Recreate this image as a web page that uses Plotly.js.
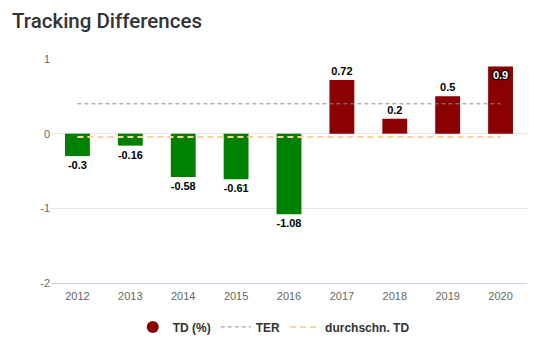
<!DOCTYPE html>
<html><head><meta charset="utf-8">
<script src="https://cdn.plot.ly/plotly-3.0.1.min.js"></script>
<style>html,body{margin:0;padding:0;background:#fff}#chart{width:547px;height:353px}</style>
</head><body><div id="chart"></div>
<script>
const years = ["2012","2013","2014","2015","2016","2017","2018","2019","2020"];
const td = [-0.3,-0.16,-0.58,-0.61,-1.08,0.72,0.2,0.5,0.9];
const ter = [0.4,0.4,0.4,0.4,0.4,0.4,0.4,0.4,0.4];
const avgTd = [-0.045,-0.045,-0.045,-0.045,-0.045,-0.045,-0.045,-0.045,-0.045];
const yTicks = [-2,-1,0,1];

const barColors = td.map(v => v < 0 ? "#008000" : "#8b0000");
const textPos = td.map(v => v > 0.85 ? "inside" : "outside");

const traces = [
  {type:"bar", x:years, y:td, width:0.47, marker:{color:barColors},
   text:td.map(String), textposition:textPos, cliponaxis:false,
   insidetextanchor:"end",
   insidetextfont:{family:"Liberation Sans, Arial, sans-serif", size:11, color:"#ffffff", weight:"bold",
                   shadow:"1px 1px 1px #000, -1px -1px 1px #000, 1px -1px 1px #000, -1px 1px 1px #000"},
   outsidetextfont:{family:"Liberation Sans, Arial, sans-serif", size:11, color:"#000", weight:"bold"},
   showlegend:false, hoverinfo:"skip"},
  {type:"scatter", mode:"markers", x:[null], y:[null], name:"TD (%)",
   marker:{symbol:"circle", size:12, color:"#8b0000"}},
  {type:"scatter", mode:"lines", x:years, y:ter, name:"TER",
   line:{color:"#8c8c8c", width:1, dash:"4px,3px"}},
  {type:"scatter", mode:"lines", x:years, y:avgTd, name:"durchschn. TD",
   line:{color:"#ffd0a0", width:2, dash:"6px,4px"}}
];

const layout = {
  width:547, height:353,
  margin:{l:51, r:20, t:59, b:70},
  paper_bgcolor:"#fff", plot_bgcolor:"#fff",
  font:{family:"Liberation Sans, Arial, sans-serif", size:11, color:"#666"},
  title:{text:"Tracking Differences", x:0.022, xanchor:"left", y:0.94, yanchor:"middle",
         font:{family:"Roboto, Inter, sans-serif", size:20.5, color:"#333", weight:500}},
  xaxis:{type:"category", showgrid:false, zeroline:false, showline:true, linecolor:"#ccd6eb",
         linewidth:1, ticks:"", ticklabelstandoff:3, tickfont:{size:11, color:"#666"},
         fixedrange:true, automargin:false},
  yaxis:{range:[-2,1], tickvals:yTicks, ticktext:yTicks.map(String), showgrid:true,
         gridcolor:"#e6e6e6", zeroline:false, showline:false, ticks:"", ticklen:0,
         tickfont:{size:11, color:"#666"}, fixedrange:true, automargin:false},
  legend:{orientation:"h", x:0.468, xanchor:"center", y:-0.196, yanchor:"middle",
          font:{size:12, color:"#333", weight:"bold"}, itemwidth:30},
  bargap:0.5
};
Plotly.newPlot("chart", traces, layout, {displayModeBar:false, staticPlot:true});
</script></body></html>
